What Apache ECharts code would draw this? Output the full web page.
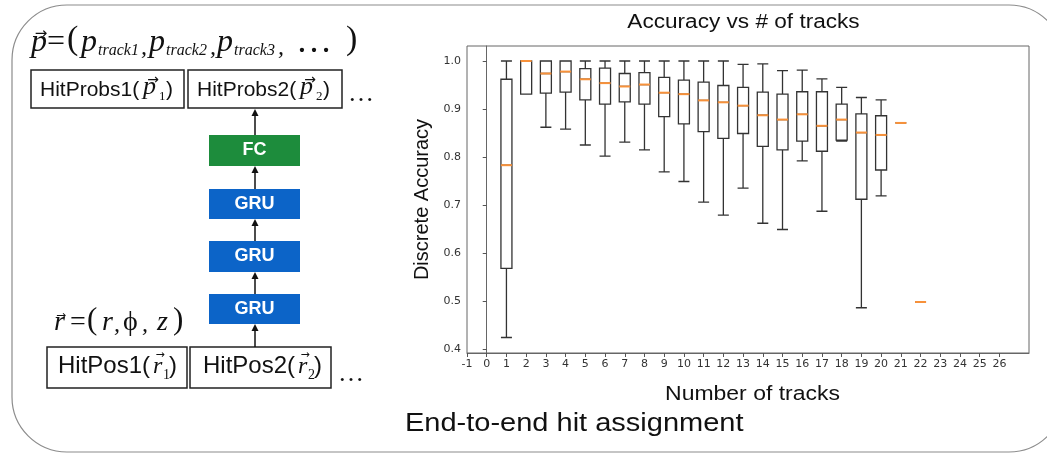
<!DOCTYPE html>
<html>
<head>
<meta charset="utf-8">
<title>Accuracy vs # of tracks</title>
<script src="https://cdn.jsdelivr.net/npm/echarts@6/dist/echarts.min.js"></script>
<style>
html,body{margin:0;padding:0;background:#fff;}
#main{width:1047px;height:454px;}
</style>
</head>
<body>
<div id="main"></div>
<script>
// box plot per number of tracks
var tracks    = [1, 2, 3, 4, 5, 6, 7, 8, 9, 10, 11, 12, 13, 14, 15, 16, 17, 18, 19, 20, 21, 22];
var whiskLow  = [0.424, 0.931, 0.862, 0.858, 0.825, 0.802, 0.831, 0.815, 0.769, 0.749, 0.706, 0.679, 0.735, 0.662, 0.649, 0.792, 0.687, 0.833, 0.486, 0.719, 0.871, 0.498];
var q1        = [0.568, 0.931, 0.933, 0.935, 0.919, 0.910, 0.915, 0.910, 0.884, 0.869, 0.853, 0.839, 0.849, 0.822, 0.815, 0.833, 0.812, 0.835, 0.712, 0.773, 0.871, 0.498];
var median    = [0.783, 1.000, 0.974, 0.978, 0.962, 0.954, 0.947, 0.951, 0.934, 0.931, 0.918, 0.914, 0.907, 0.887, 0.878, 0.889, 0.865, 0.878, 0.851, 0.846, 0.871, 0.498];
var q3        = [0.962, 1.000, 1.000, 1.000, 0.984, 0.985, 0.974, 0.976, 0.966, 0.960, 0.956, 0.949, 0.945, 0.935, 0.931, 0.936, 0.936, 0.910, 0.890, 0.886, 0.871, 0.498];
var whiskHigh = [1.000, 1.000, 1.000, 1.000, 1.000, 1.000, 1.000, 1.000, 1.000, 1.000, 1.000, 1.000, 0.993, 0.994, 0.980, 0.981, 0.963, 0.945, 0.924, 0.919, 0.871, 0.498];

var xTicks = [-1, 0, 1, 2, 3, 4, 5, 6, 7, 8, 9, 10, 11, 12, 13, 14, 15, 16, 17, 18, 19, 20, 21, 22, 23, 24, 25, 26];
var yTicks = [0.4, 0.5, 0.6, 0.7, 0.8, 0.9, 1.0];

var myChart = echarts.init(document.getElementById('main'));

var boxData = tracks.map(function (t, i) {
    return [t, whiskLow[i], q1[i], median[i], q3[i], whiskHigh[i]];
});
var medData = tracks.map(function (t, i) {
    return [t, median[i]];
});

var SANS = '"Liberation Sans", Arial, sans-serif';
var SERIF = '"Liberation Serif", "Times New Roman", serif';

//--helpers for the network sketch on the left
function txt(s, x, base, size, family, opt) {
    opt = opt || {};
    return {
        type: 'text', x: x, y: base - 0.34 * size, scaleX: opt.sx || 1, z: 10, silent: true,
        style: {
            text: s,
            font: (opt.italic ? 'italic ' : '') + (opt.bold ? 'bold ' : '') + size + 'px ' + family,
            fill: opt.color || '#111',
            align: opt.align || 'left',
            verticalAlign: 'middle'
        }
    };
}
function vec(cx, cy, size) {
    return {
        type: 'text', x: cx, y: cy, z: 10, silent: true,
        style: { text: '\u2192', font: size + 'px "DejaVu Sans"', fill: '#111', align: 'center', verticalAlign: 'middle' }
    };
}
function box(x, y, w, h, fill) {
    return {
        type: 'rect', z: 5, silent: true,
        shape: { x: x, y: y, width: w, height: h },
        style: fill ? { fill: fill, stroke: null } : { fill: '#fff', stroke: '#222', lineWidth: 1.5 }
    };
}
function label(s, cx, cy) {
    return {
        type: 'text', x: cx, y: cy, z: 10, silent: true,
        style: { text: s, font: 'bold 18px ' + SANS, fill: '#fff', align: 'center', verticalAlign: 'middle' }
    };
}
function arrow(x, yFrom, yTo) {
    return [
        { type: 'line', z: 5, silent: true, shape: { x1: x, y1: yFrom, x2: x, y2: yTo + 5 }, style: { stroke: '#111', lineWidth: 1.5 } },
        { type: 'polygon', z: 5, silent: true, shape: { points: [[x - 3.5, yTo + 7], [x + 3.5, yTo + 7], [x, yTo]] }, style: { fill: '#111' } }
    ];
}

var sketch = [
    { type: 'rect', z: 1, silent: true, shape: { x: 12, y: 5, width: 1052, height: 447, r: 55 }, style: { fill: 'none', stroke: '#8c8c8c', lineWidth: 1.2 } },

    // p = (p_track1, p_track2, p_track3, ...)
    txt('p', 31, 53, 32, SERIF, { italic: true }),
    vec(41, 34, 15),
    txt('=', 47, 53, 32, SERIF),
    txt('(', 67, 52, 34, SERIF),
    txt('p', 81, 53, 32, SERIF, { italic: true }),
    txt('track1', 98, 56, 16, SERIF, { italic: true }),
    txt(',', 141, 56, 24, SERIF, { italic: true }),
    txt('p', 149, 53, 32, SERIF, { italic: true }),
    txt('track2', 166, 56, 16, SERIF, { italic: true }),
    txt(',', 210, 56, 24, SERIF, { italic: true }),
    txt('p', 217, 53, 32, SERIF, { italic: true }),
    txt('track3', 234, 56, 16, SERIF, { italic: true }),
    txt(',', 278, 56, 24, SERIF, { italic: true }),
    txt('\u2026', 296, 55, 36, SERIF),
    txt(')', 346, 52, 34, SERIF),

    box(31, 70, 153, 38),
    box(188, 70, 154, 38),
    txt('HitProbs1(', 40, 97, 21, SANS),
    txt('p', 143, 96, 26, SERIF, { italic: true }),
    vec(153, 80, 14),
    txt('1', 159, 101, 13, SERIF),
    txt(')', 166, 97, 21, SANS),
    txt('HitProbs2(', 197, 97, 21, SANS),
    txt('p', 300, 96, 26, SERIF, { italic: true }),
    vec(310, 80, 14),
    txt('2', 316, 101, 13, SERIF),
    txt(')', 323, 97, 21, SANS),
    txt('\u2026', 348, 103, 26, SERIF),

    box(209, 135, 91, 31, '#1d8c3c'),
    box(209, 189, 91, 30, '#0c64c8'),
    box(209, 241, 91, 31, '#0c64c8'),
    box(209, 294, 91, 30, '#0c64c8'),
    label('FC', 254.5, 150.5),
    label('GRU', 254.5, 204),
    label('GRU', 254.5, 256.5),
    label('GRU', 254.5, 309),

    // r = (r, phi, z)
    txt('r', 54, 332, 28, SERIF, { italic: true }),
    vec(61, 316, 12),
    txt('=', 70, 332, 28, SERIF),
    txt('(', 87, 331, 31, SERIF),
    txt('r', 102, 332, 28, SERIF, { italic: true }),
    txt(',', 114, 333, 24, SERIF, { italic: true }),
    txt('\u03d5', 123, 332, 28, SERIF),
    txt(',', 142, 333, 24, SERIF, { italic: true }),
    txt('z', 157, 332, 28, SERIF, { italic: true }),
    txt(')', 173, 331, 31, SERIF),

    box(47, 347, 140, 41),
    box(190, 347, 141, 41),
    txt('HitPos1(', 58, 375, 24, SANS),
    txt('r', 153, 375, 24, SERIF, { italic: true }),
    vec(160, 355, 11),
    txt('1', 163, 380, 14, SERIF),
    txt(')', 169, 375, 24, SANS),
    txt('HitPos2(', 203, 375, 24, SANS),
    txt('r', 298, 375, 24, SERIF, { italic: true }),
    vec(305, 355, 11),
    txt('2', 308, 380, 14, SERIF),
    txt(')', 314, 375, 24, SANS),
    txt('\u2026', 338, 383, 26, SERIF),

    // chart texts
    txt('Accuracy vs # of tracks', 743.5, 29.5, 20, SANS, { align: 'center', sx: 1.13 }),
    txt('Number of tracks', 752.5, 401.7, 20.5, SANS, { align: 'center', sx: 1.12 }),
    txt('End-to-end hit assignment', 405, 433, 25, SANS, { sx: 1.16 })
];
[[255, 347, 324], [255, 294, 272], [255, 241, 219], [255, 189, 166], [255, 135, 109]].forEach(function (a) {
    sketch = sketch.concat(arrow(a[0], a[1], a[2]));
});

option = {
    animation: false,
    backgroundColor: '#fff',
    grid: {
        left: 467, right: 18, top: 46, bottom: 101,
        show: true, borderColor: '#666', borderWidth: 1
    },
    xAxis: {
        type: 'value',
        min: -1,
        max: 27.5,
        splitLine: { show: false },
        axisLine: { lineStyle: { color: '#666', width: 1 } },
        axisTick: { customValues: xTicks, length: 4, lineStyle: { color: '#555' } },
        axisLabel: { customValues: xTicks, color: '#333', fontSize: 11, fontFamily: 'DejaVu Sans', margin: 6 }
    },
    yAxis: {
        type: 'value',
        min: 0.3917,
        max: 1.0313,
        name: 'Discrete Accuracy',
        nameLocation: 'middle',
        nameRotate: 90,
        nameGap: 25,
        nameTextStyle: { fontSize: 20, fontFamily: 'Liberation Sans', color: '#111' },
        splitLine: { show: false },
        axisLine: { show: true, lineStyle: { color: '#666', width: 1 } },
        axisTick: { show: true, customValues: yTicks, length: 4, lineStyle: { color: '#555' } },
        axisLabel: {
            customValues: yTicks, color: '#333', fontSize: 11, fontFamily: 'DejaVu Sans', margin: 6,
            formatter: function (v) { return v.toFixed(1); }
        }
    },
    graphic: sketch,
    series: [
        {
            name: 'accuracy',
            type: 'boxplot',
            data: boxData,
            boxWidth: [11, 11],
            silent: true,
            itemStyle: { color: 'rgba(0,0,0,0)', borderColor: '#333', borderWidth: 1.3 }
        },
        {
            name: 'median',
            type: 'scatter',
            data: medData,
            symbol: 'rect',
            symbolSize: [11, 2],
            silent: true,
            z: 5,
            itemStyle: { color: '#f7913a', opacity: 1 }
        }
    ]
};

myChart.setOption(option);
window.addEventListener('resize', function () {
    myChart.resize();
});
</script>
</body>
</html>
